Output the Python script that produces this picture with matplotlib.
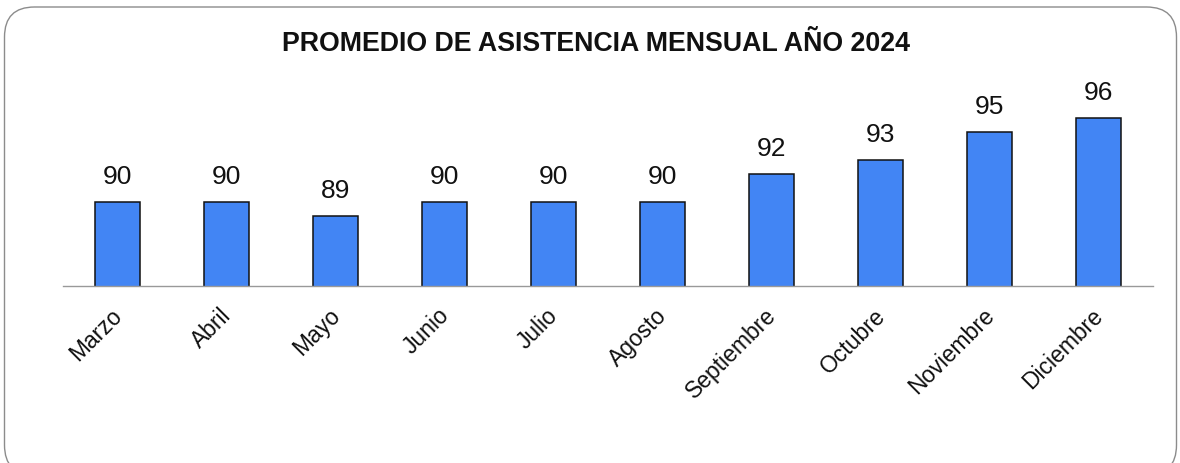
import matplotlib
matplotlib.use("Agg")
import matplotlib.pyplot as plt
from matplotlib.patches import FancyBboxPatch
import matplotlib.transforms as mtransforms

months = ["Marzo", "Abril", "Mayo", "Junio", "Julio", "Agosto",
          "Septiembre", "Octubre", "Noviembre", "Diciembre"]
values = [90, 90, 89, 90, 90, 90, 92, 93, 95, 96]
title = "PROMEDIO DE ASISTENCIA MENSUAL AÑO 2024"

plt.rcParams['font.family'] = ['Liberation Sans', 'DejaVu Sans']

W, H = 1180, 463
fig = plt.figure(figsize=(W / 100, H / 100), dpi=100)
fig.patch.set_facecolor('white')

# rounded border (inches)
pad = 0.25
bx0, bx1 = 0.045, 11.765
by0, by1 = -0.12, 4.56
border = FancyBboxPatch((bx0 + pad, by0 + pad), bx1 - bx0 - 2 * pad, by1 - by0 - 2 * pad,
                        boxstyle="round,pad=0.25,rounding_size=0.3",
                        transform=fig.dpi_scale_trans, fill=False,
                        edgecolor='#8c8c8c', linewidth=1.0, zorder=0)
fig.patches.append(border)

left = 63 / W
width = 1090 / W
bottom = (H - 286) / H
height = 196 / H
ax = fig.add_axes([left, bottom, width, height])
ax.set_facecolor('none')

x = list(range(len(months)))
ax.bar(x, values, width=0.404, color='#4285f4', edgecolor='#111111',
       linewidth=1.1, zorder=2)
ax.set_ylim(84, 98)
ax.set_xlim(-0.5, len(months) - 0.5)

for xi, v in zip(x, values):
    ax.annotate(str(v), (xi, v), xytext=(0, 9), textcoords='offset points',
                ha='center', va='bottom', fontsize=19, color='#111111')

for s in ['top', 'right', 'left']:
    ax.spines[s].set_visible(False)
ax.spines['bottom'].set_color('#999999')
ax.spines['bottom'].set_linewidth(1.0)
ax.spines['bottom'].set_zorder(3)
ax.set_yticks([])
ax.set_xticks(x)
ax.set_xticklabels(months, rotation=45, ha='right', va='top',
                   rotation_mode='anchor', fontsize=16.5, color='#111111')
ax.tick_params(axis='x', length=0, pad=13)
offset = mtransforms.ScaledTranslation(-7 / 100, 0, fig.dpi_scale_trans)
for lab in ax.get_xticklabels():
    lab.set_transform(lab.get_transform() + offset)

fig.text(596 / W, 1 - 44 / H, title, ha='center', va='center',
         fontsize=19.3, fontweight='bold', color='#111111')

fig.savefig("out.png", dpi=100, facecolor='white')
